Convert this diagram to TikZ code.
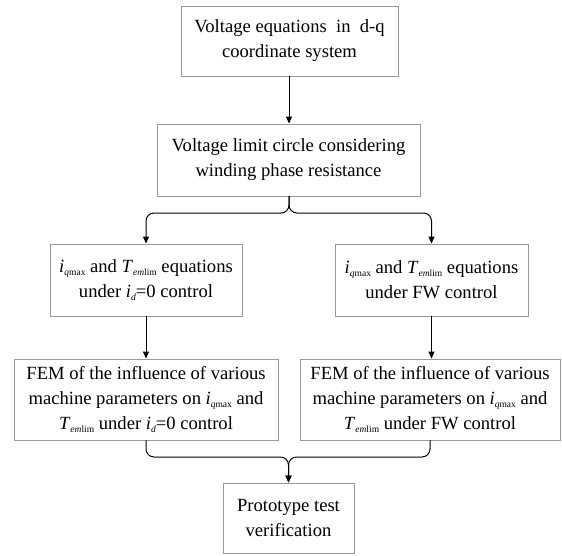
\documentclass[tikz,border=0pt]{standalone}
\usepackage{fontspec}
\setmainfont{Liberation Serif}
\usetikzlibrary{arrows.meta}
\newcommand{\smallsub}[1]{\raisebox{-0.35ex}{\fontsize{9.5}{10}\selectfont #1}}
\newcommand{\iqmax}{\textit{i}\smallsub{\textit{q}max}}
\newcommand{\Temlim}{\textit{T}\smallsub{\textit{em}lim}}
\newcommand{\idzero}{\textit{i}\smallsub{\textit{d}}=0}
\begin{document}
\begin{tikzpicture}[x=1pt,y=-1pt,
  box/.style={draw=black!40,line width=0.9pt,align=center,inner sep=0pt,
    font=\fontsize{18.6}{25}\selectfont},
  conn/.style={line width=1pt,black},
  arr/.style={conn,-{Triangle[length=7pt,width=6pt]}},
  brace/.style={arr,rounded corners=8pt}]
\useasboundingbox (0,0) rectangle (562,555);
\node[box,minimum width=217pt,minimum height=70pt] (b1) at (289.5,41)
  {Voltage equations\ \ in\ \ d-q\\coordinate system};
\node[box,minimum width=263pt,minimum height=72pt] (b2) at (288.5,160)
  {Voltage limit circle considering\\winding phase resistance};
\node[box,minimum width=192pt,minimum height=72pt] (b3) at (146,280)
  {\iqmax{} and \Temlim{} equations\\under \idzero{} control};
\node[box,minimum width=193pt,minimum height=72pt] (b4) at (431.5,280)
  {\iqmax{} and \Temlim{} equations\\under FW control};
\node[box,minimum width=264pt,minimum height=81pt] (b5) at (146,399.5)
  {FEM of the influence of various\\machine parameters on \iqmax{} and\\\Temlim{} under \idzero{} control};
\node[box,minimum width=260pt,minimum height=81pt] (b6) at (430,399.5)
  {FEM of the influence of various\\machine parameters on \iqmax{} and\\\Temlim{} under FW control};
\node[box,minimum width=131pt,minimum height=70pt] (b7) at (288.5,518)
  {Prototype test\\verification};
\coordinate (c2) at (289,196);
\draw[arr] (b1.south -| c2) -- (b2.north -| c2);
\draw[brace] (c2) -- (289,213) -- (146,213) -- (b3.north);
\draw[brace] (c2) -- (289,213) -- (431.5,213) -- (b4.north);
\draw[arr] (b3.south) -- (b5.north -| b3.south);
\draw[arr] (b4.south) -- (b6.north -| b4.south);
\coordinate (c7) at (288.5,457);
\draw[brace] (b5.south) -- (146,457) -- (c7) -- (b7.north);
\draw[brace] (b6.south) -- (430,457) -- (c7) -- (b7.north);
\end{tikzpicture}
\end{document}
